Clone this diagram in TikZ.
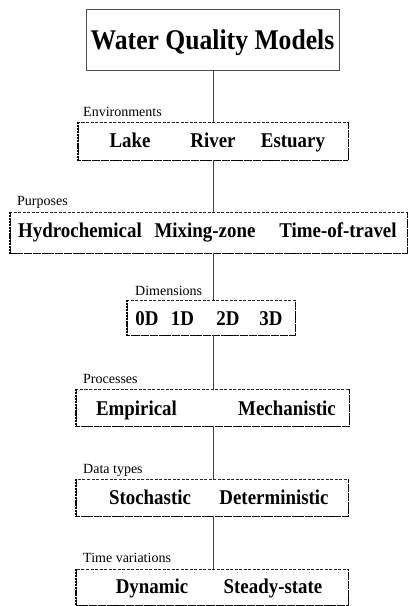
\documentclass[tikz,border=0pt]{standalone}
\usepackage{fontspec}
\setmainfont{Liberation Serif}
\newfontfamily\tallserif[FakeStretch=0.9]{Liberation Serif}
\begin{document}
\begin{tikzpicture}[x=1pt,y=-1pt,
  titletext/.style={font=\tallserif\fontsize{28.5}{32}\selectfont\bfseries, inner sep=0pt, anchor=base},
  itemtext/.style={font=\tallserif\fontsize{21}{24}\selectfont\bfseries, inner sep=0pt, anchor=base},
  grouplabel/.style={font=\fontsize{14}{16}\selectfont, inner sep=0pt, anchor=base west},
  titlebox/.style={draw=black!70, line width=0.9pt, inner sep=0pt},
  groupbox/.style={draw=black!85, dash pattern=on 3pt off 1.5pt, line width=0.7pt, inner sep=0pt},
  shadowedge/.style={draw=black, dash pattern=on 2.2pt off 0.9pt, line width=1.7pt},
  link/.style={draw=black!75, line width=0.8pt}]
\useasboundingbox (0,0) rectangle (409,606);
% boxes
\node[titlebox, minimum width=253pt, minimum height=61pt] (title) at (212.5,39.5) {};
\node[groupbox, minimum width=270pt, minimum height=38pt] (env) at (213,141) {};
\node[groupbox, minimum width=397pt, minimum height=41pt] (purp) at (208.5,232.5) {};
\node[groupbox, minimum width=168pt, minimum height=35pt] (dim) at (211,317.5) {};
\node[groupbox, minimum width=273pt, minimum height=37pt] (proc) at (212.5,407.5) {};
\node[groupbox, minimum width=272pt, minimum height=37pt] (data) at (212,497.5) {};
\node[groupbox, minimum width=272pt, minimum height=36pt] (time) at (212,587) {};
\foreach \b in {env,purp,dim,proc,data,time}
  \draw[shadowedge] (\b.north west) |- (\b.south east) -- (\b.north east);
% connectors
\draw[link] (env.north |- title.south) -- (env.north);
\draw[link] (env.south) -- (env.south |- purp.north);
\draw[link] (env.south |- purp.south) -- (env.south |- dim.north);
\draw[link] (env.south |- dim.south) -- (env.south |- proc.north);
\draw[link] (env.south |- proc.south) -- (env.south |- data.north);
\draw[link] (env.south |- data.south) -- (env.south |- time.north);
% title
\node[titletext] (titletxt) at (212.5,49) {Water Quality Models};
% group labels
\node[grouplabel] (lenv) at (83,116) {Environments};
\node[grouplabel] (lpurp) at (17,205) {Purposes};
\node[grouplabel] (ldim) at (135,295) {Dimensions};
\node[grouplabel] (lproc) at (83,383) {Processes};
\node[grouplabel] (ldata) at (83,473) {Data types};
\node[grouplabel] (ltime) at (83,562) {Time variations};
% items
\node[itemtext] (lake) at (130,147) {Lake};
\node[itemtext] (river) at (213,147) {River};
\node[itemtext] (estuary) at (293,147) {Estuary};
\node[itemtext] (hydro) at (80,237) {Hydrochemical};
\node[itemtext] (mixing) at (205,237) {Mixing-zone};
\node[itemtext] (tot) at (338,237) {Time-of-travel};
\node[itemtext] (d0) at (147,325) {0D};
\node[itemtext] (d1) at (182.5,325) {1D};
\node[itemtext] (d2) at (228,325) {2D};
\node[itemtext] (d3) at (271,325) {3D};
\node[itemtext] (emp) at (136.5,415) {Empirical};
\node[itemtext] (mech) at (287,415) {Mechanistic};
\node[itemtext] (stoch) at (150,504) {Stochastic};
\node[itemtext] (det) at (274,504) {Deterministic};
\node[itemtext] (dyn) at (152,593) {Dynamic};
\node[itemtext] (steady) at (273,593) {Steady-state};
\end{tikzpicture}
\end{document}
